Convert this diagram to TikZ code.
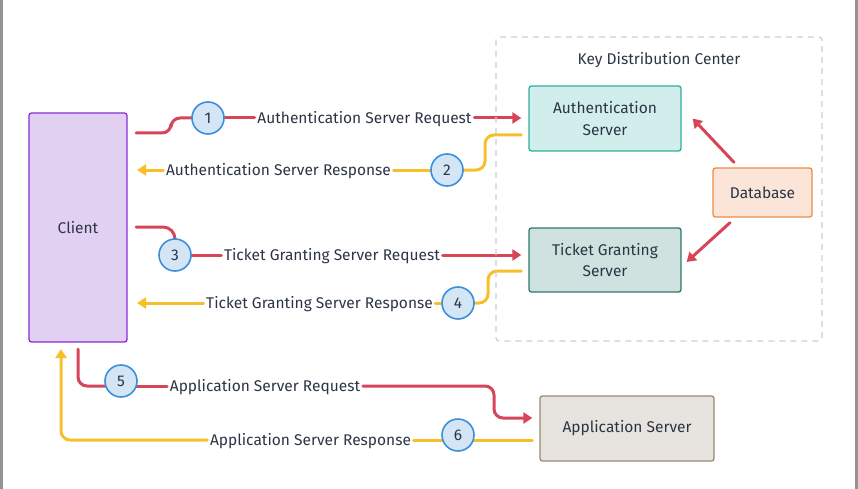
\documentclass[tikz,border=0pt]{standalone}
\usepackage{fontspec}
\setmainfont{Fira Sans}
\usetikzlibrary{arrows.meta,backgrounds,calc}
\definecolor{txt}{HTML}{2B3544}
\definecolor{req}{HTML}{D64558}
\definecolor{resp}{HTML}{F7C02B}
\definecolor{circfill}{HTML}{D4E5F5}
\definecolor{circdraw}{HTML}{3B8FDC}
\definecolor{kdc}{HTML}{C5D0DB}
\definecolor{clientdraw}{HTML}{8B2BD8}
\definecolor{clientfill}{HTML}{E2D0F2}
\definecolor{asdraw}{HTML}{2BB0A0}
\definecolor{asfill}{HTML}{D2EEEC}
\definecolor{tgsdraw}{HTML}{2B7A6A}
\definecolor{tgsfill}{HTML}{CFE2DF}
\definecolor{dbdraw}{HTML}{EE8B45}
\definecolor{dbfill}{HTML}{FBE5D9}
\definecolor{appdraw}{HTML}{9A8B72}
\definecolor{appfill}{HTML}{E7E3DE}
\tikzset{
  base/.style={font=\fontsize{15.5}{21.5}\selectfont, text=txt},
  box/.style={base, draw, line width=1.3pt, rounded corners=2.5pt, align=center, inner sep=0pt},
  num/.style={base, circle, draw=circdraw, fill=circfill, line width=1.6pt, minimum size=32pt, inner sep=0pt},
  lbl/.style={base, inner sep=2.5pt},
  reqline/.style={draw=req, line width=3pt, line cap=round, rounded corners=9pt},
  respline/.style={draw=resp, line width=3pt, line cap=round, rounded corners=9pt},
  tip/.style={-{Triangle[length=9pt,width=11pt]}},
}
\begin{document}
\begin{tikzpicture}[x=1pt,y=-1pt]
\useasboundingbox (0,0) rectangle (858,489);
\fill[gray!85] (0,0) rectangle (3,489);
\fill[gray!85] (855,0) rectangle (858,489);
% KDC frame
\draw[kdc, line width=1.2pt, dash pattern=on 6pt off 5pt, rounded corners=3pt] (496,37) rectangle (822,341);
\node[base] (kdclbl) at (659,60) {Key Distribution Center};
% boxes
\node[box, draw=clientdraw, fill=clientfill, minimum width=98pt, minimum height=229pt] (client) at (78,227.5) {Client};
\node[box, draw=asdraw, fill=asfill, minimum width=152pt, minimum height=65pt] (as) at (605,118.5) {Authentication\\Server};
\node[box, draw=tgsdraw, fill=tgsfill, minimum width=152pt, minimum height=64pt] (tgs) at (605,260) {Ticket Granting\\Server};
\node[box, draw=dbdraw, fill=dbfill, minimum width=99pt, minimum height=49pt] (db) at (762.5,192.5) {Database};
\node[box, draw=appdraw, fill=appfill, minimum width=174pt, minimum height=65pt] (app) at (627,428.5) {Application Server};
% numbered circles
\node[num] (c1) at (208,118) {1};
\node[num] (c2) at (447,170) {2};
\node[num] (c3) at (175,255) {3};
\node[num] (c4) at (458,303) {4};
\node[num] (c5) at (121,381) {5};
\node[num] (c6) at (458,435) {6};
% labels
\node[lbl] (l1) at (364.5,119) {Authentication Server Request};
\node[lbl] (l2) at (278.5,171) {Authentication Server Response};
\node[lbl] (l3) at (332,256) {Ticket Granting Server Request};
\node[lbl] (l4) at (319.5,304) {Ticket Granting Server Response};
\node[lbl] (l5) at (265,387) {Application Server Request};
\node[lbl] (l6) at (310.5,441) {Application Server Response};
% free ends
\coordinate (s1) at (136,133);
\coordinate (e2) at (137,170);
\coordinate (s3) at (136,227);
\coordinate (e4) at (137,303);
\coordinate (s5) at (78,349);
\coordinate (e6) at (61,349);
\begin{scope}[on background layer]
% 1
\draw[reqline] (s1) -- (171,133) -- (171,118) -- (c1.center);
\draw[reqline] (c1) -- (l1.west |- c1);
\draw[reqline, tip] (l1.east |- c1) -- ([xshift=-7pt]as.west |- c1);
% 2
\draw[respline] ([xshift=-7pt]as.west |- 0,135) -- (485,135) -- (485,170) -- (c2.center);
\draw[respline] (c2) -- (l2.east |- c2);
\draw[respline, tip] (l2.west |- c2) -- (e2);
% 3
\draw[reqline, rounded corners=12pt] (s3) -- (c3.center |- s3) -- (c3.center);
\draw[reqline] (c3) -- (l3.west |- c3);
\draw[reqline, tip] (l3.east |- c3) -- ([xshift=-7pt]tgs.west |- c3);
% 4
\draw[respline] ([xshift=-7pt]tgs.west |- 0,271) -- (488,271) -- (488,303) -- (c4.center);
\draw[respline] (c4) -- (l4.east |- c4);
\draw[respline, tip] (l4.west |- c4) -- (e4);
% 5
\draw[reqline] (s5) -- (78,386) -- (c5.center |- 0,386) -- (c5.center);
\draw[reqline] (c5.center |- 0,386) -- (l5.west |- 0,386);
\draw[reqline, tip] (l5.east |- 0,386) -- (494,386) -- (494,418) -- ([xshift=-7pt]app.west |- 0,418);
% 6
\draw[respline] ([xshift=-7pt]app.west |- 0,440) -- (c6.center |- 0,440);
\draw[respline] (c6.center |- 0,440) -- (l6.east |- 0,440);
\draw[respline, tip] (l6.west |- 0,440) -- (61,440) -- (e6);
% database
\draw[reqline, tip] ([xshift=-28.5pt,yshift=5pt]db.north) -- ([xshift=11pt]as.east);
\draw[reqline, tip] ([xshift=-32.5pt,yshift=-5pt]db.south) -- ([xshift=5pt,yshift=-2pt]tgs.east);
\end{scope}
\end{tikzpicture}
\end{document}
